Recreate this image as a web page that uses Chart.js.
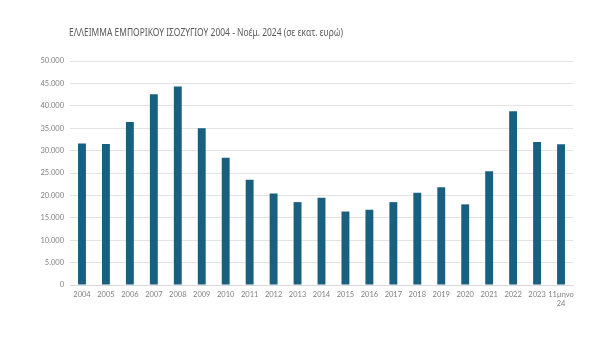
<!DOCTYPE html>
<html>
<head>
<meta charset="utf-8">
<script src="https://cdn.jsdelivr.net/npm/chart.js@4"></script>
<style>
  html, body { margin: 0; padding: 0; background: #ffffff; }
  #wrap { width: 600px; height: 355px; position: relative; }
</style>
</head>
<body>
<div id="wrap"><canvas id="c" width="600" height="355"></canvas></div>
<script>
const chartTitle = 'ΕΛΛΕΙΜΜΑ ΕΜΠΟΡΙΚΟΥ ΙΣΟΖΥΓΙΟΥ 2004 - Νοέμ. 2024 (σε εκατ. ευρώ)';
const categories = ['2004','2005','2006','2007','2008','2009','2010','2011','2012','2013','2014',
  '2015','2016','2017','2018','2019','2020','2021','2022','2023',['11μηνο','24']];
const deficitValues = [31600,31500,36400,42600,44300,35000,28400,23500,20400,18500,19500,
  16400,16800,18500,20600,21800,18000,25400,38800,31900,31400];
const yTickValues = [0,5000,10000,15000,20000,25000,30000,35000,40000,45000,50000];

const FONT = 'Lato, "Noto Sans", sans-serif';

const titlePlugin = {
  id: 'leftTitle',
  afterDraw(chart) {
    const ctx = chart.ctx;
    ctx.save();
    ctx.font = '10.5px "Noto Sans", sans-serif';
    ctx.fillStyle = '#595959';
    ctx.textBaseline = 'middle';
    ctx.textAlign = 'left';
    const x = chart.chartArea.left - 1;
    const target = 274;
    const w = ctx.measureText(chartTitle).width;
    ctx.translate(x, 33);
    ctx.scale(Math.min(1, target / w), 1);
    ctx.fillText(chartTitle, 0, 0);
    ctx.restore();
  }
};

const fmt = v => v.toString().replace(/\B(?=(\d{3})+(?!\d))/g, '.');

new Chart(document.getElementById('c'), {
  type: 'bar',
  data: {
    labels: categories,
    datasets: [{
      data: deficitValues,
      backgroundColor: '#195f80',
      borderWidth: 0,
      barPercentage: 0.33,
      categoryPercentage: 1.0
    }]
  },
  options: {
    responsive: false,
    animation: false,
    devicePixelRatio: 1,
    layout: { padding: { top: 61, right: 27, bottom: 0, left: 0 } },
    plugins: { legend: { display: false }, title: { display: false }, tooltip: { enabled: false } },
    scales: {
      x: {
        grid: { display: false, drawTicks: false },
        border: { display: true, color: '#d9d9d9', width: 1 },
        ticks: {
          color: '#7f7f7f',
          font: { family: FONT, size: 7.5 },
          padding: 5,
          maxRotation: 0,
          autoSkip: false
        },
        afterFit(scale) { scale.height = 70; }
      },
      y: {
        min: 0,
        max: 50000,
        afterBuildTicks(scale) { scale.ticks = yTickValues.map(v => ({ value: v })); },
        grid: { color: '#e3e3e3', lineWidth: 1, drawTicks: false },
        border: { display: false },
        ticks: {
          color: '#7f7f7f',
          font: { family: FONT, size: 7.5 },
          padding: 6,
          callback: v => fmt(v)
        },
        afterFit(scale) { scale.width = 70; }
      }
    }
  },
  plugins: [titlePlugin]
});
</script>
</body>
</html>
